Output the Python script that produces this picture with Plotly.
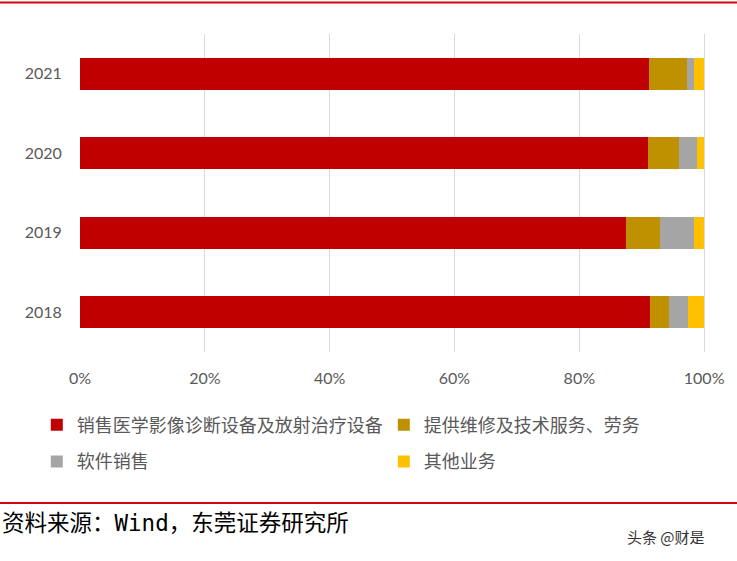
import plotly.graph_objects as go

years = ['2018', '2019', '2020', '2021']
equipment_sales = [91.3, 87.5, 91.0, 91.1]
maintenance_services = [3.0, 5.5, 5.0, 6.2]
software_sales = [3.1, 5.3, 2.9, 1.1]
other_business = [2.6, 1.7, 1.1, 1.6]

series_names = ['销售医学影像诊断设备及放射治疗设备', '提供维修及技术服务、劳务', '软件销售', '其他业务']
series_colors = ['#C00000', '#BF9000', '#A5A5A5', '#FFC000']
series_values = [equipment_sales, maintenance_services, software_sales, other_business]
legend_refs = ['legend', 'legend', 'legend2', 'legend2']

fig = go.Figure()
for name, color, values, leg in zip(series_names, series_colors, series_values, legend_refs):
    fig.add_trace(go.Bar(
        y=years, x=values, name=name, orientation='h',
        marker=dict(color=color, line=dict(width=0)),
        legend=leg,
    ))

legend_style = dict(
    orientation='h', xanchor='left', yanchor='middle', x=-0.069,
    font=dict(family='Noto Sans CJK SC', size=18, color='#595959'),
    entrywidth=302, entrywidthmode='pixels', bgcolor='rgba(0,0,0,0)',
    itemwidth=30, traceorder='normal',
)

fig.update_layout(
    width=737, height=561,
    margin=dict(l=80, r=27, t=34, b=209),
    paper_bgcolor='white', plot_bgcolor='white',
    barmode='stack', bargap=0.6,
    font=dict(family='Lato', color='#595959'),
    legend=dict(legend_style, y=-0.23),
    legend2=dict(legend_style, y=-0.345),
    xaxis=dict(
        range=[0, 100.3], tickvals=[0, 20, 40, 60, 80, 100],
        ticktext=['0%', '20%', '40%', '60%', '80%', '100%'],
        showgrid=True, gridcolor='#D9D9D9', gridwidth=1,
        zeroline=False, showline=False,
        ticks='outside', ticklen=12, tickcolor='rgba(0,0,0,0)',
        tickfont=dict(family='Lato', size=16, color='#595959'),
    ),
    yaxis=dict(
        type='category', showgrid=False, zeroline=False, showline=False,
        ticks='outside', ticklen=14, tickcolor='rgba(0,0,0,0)',
        tickfont=dict(family='Lato', size=16, color='#595959'),
    ),
    shapes=[
        dict(type='line', xref='paper', yref='paper', x0=-0.13, x1=1.06,
             y0=1.099, y1=1.099, line=dict(color='#D7000F', width=2)),
        dict(type='line', xref='paper', yref='paper', x0=-0.13, x1=1.06,
             y0=-0.475, y1=-0.475, line=dict(color='#D7000F', width=2)),
    ],
    annotations=[
        dict(text='资料来源：Wind，东莞证券研究所', xref='paper', yref='paper',
             x=-0.128, y=-0.537, xanchor='left', yanchor='middle', showarrow=False,
             font=dict(family='DejaVu Sans Mono, Noto Sans CJK SC', size=22.5, color='#000000')),
        dict(text='头条 @财是', xref='paper', yref='paper',
             x=0.87, y=-0.58, xanchor='left', yanchor='middle', showarrow=False,
             font=dict(family='Noto Sans CJK SC', size=15, color='#333333')),
    ],
)

# page body has a default margin, drop it so the figure sits at the corner
fig.write_html('out.html', config={'displayModeBar': False},
               post_script="document.body.style.margin='0';")
